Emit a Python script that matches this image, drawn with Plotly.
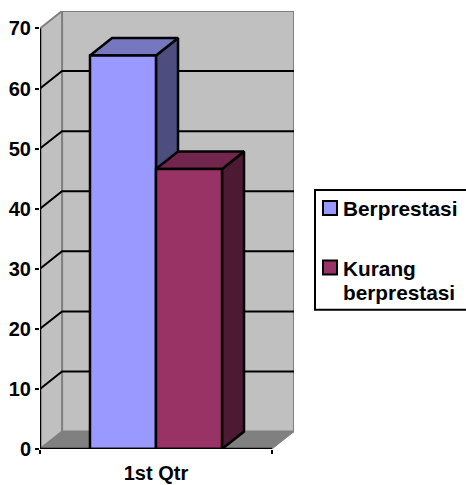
import plotly.graph_objects as go

CATEGORIES = ["1st Qtr"]
SERIES = ["Berprestasi", "Kurang<br>berprestasi"]
VALUES = [65.5, 46.6]
FRONT_COLORS = ["#9999FF", "#993366"]
TOP_COLORS = ["#7777C0", "#73264D"]
SIDE_COLORS = ["#4D4D80", "#4D1A33"]
Y_TICKS = [0, 10, 20, 30, 40, 50, 60, 70]
Y_MAX = 70
DEPTH_X = 0.095
DEPTH_Y = 2.9
BAR_GAP = 0.431
FONT = "Liberation Sans"
BOLD = dict(family=FONT, size=20, color="black", weight="bold")
W, H = 466, 485

fig = go.Figure()


def poly(xs, ys, fill, line, width=1.0):
    fig.add_trace(go.Scatter(x=xs, y=ys, mode="lines", fill="toself", fillcolor=fill,
                             line=dict(color=line, width=width), showlegend=False, hoverinfo="skip"))


L, R = -0.5, 0.5
# back wall, side wall, floor
poly([L + DEPTH_X, R + DEPTH_X, R + DEPTH_X, L + DEPTH_X, L + DEPTH_X],
     [DEPTH_Y, DEPTH_Y, Y_MAX + DEPTH_Y, Y_MAX + DEPTH_Y, DEPTH_Y], "#C0C0C0", "#808080", 2)
poly([L, L + DEPTH_X, L + DEPTH_X, L, L], [0, DEPTH_Y, Y_MAX + DEPTH_Y, Y_MAX, 0], "#C0C0C0", "#808080", 2)
poly([L, R, R + DEPTH_X, L + DEPTH_X, L], [0, 0, DEPTH_Y, DEPTH_Y, 0], "#808080", "#808080", 1)

# gridlines
for t in Y_TICKS[1:-1]:
    fig.add_trace(go.Scatter(x=[L, L + DEPTH_X, R + DEPTH_X], y=[t, t + DEPTH_Y, t + DEPTH_Y], mode="lines",
                             line=dict(color="black", width=2), showlegend=False, hoverinfo="skip"))

# depth faces of each bar
group_w = 1 - BAR_GAP
bar_w = group_w / len(VALUES)
for i, v in enumerate(VALUES):
    x0 = -group_w / 2 + i * bar_w
    x1 = x0 + bar_w
    poly([x1, x1 + DEPTH_X, x1 + DEPTH_X, x1, x1], [0, DEPTH_Y, v + DEPTH_Y, v, 0], SIDE_COLORS[i], "black", 2.5)
    poly([x0, x1, x1 + DEPTH_X, x0 + DEPTH_X, x0], [v, v, v + DEPTH_Y, v + DEPTH_Y, v], TOP_COLORS[i], "black", 2.5)

# front faces on an overlaying subplot so that they sit on top of the depth faces
for i, v in enumerate(VALUES):
    fig.add_trace(go.Bar(x=[0], y=[v], name=SERIES[i], xaxis="x2", yaxis="y2", showlegend=False,
                         marker=dict(color=FRONT_COLORS[i], line=dict(color="black", width=2.5))))

# axis lines in front
fig.add_trace(go.Scatter(x=[L, L, R], y=[Y_MAX, 0, 0], mode="lines", xaxis="x2", yaxis="y2",
                         line=dict(color="black", width=2.5), showlegend=False, hoverinfo="skip"))

# legend box, swatches and labels
LEG_FONT = dict(family=FONT, size=20.8, color="black", weight="bold")
TOP_PX, BOT_PX = 10.5, 449.5
PLOT_H = BOT_PX - TOP_PX
shapes = [dict(type="rect", xref="paper", yref="paper", layer="above",
               x0=(315 - 40) / 254, x1=(480 - 40) / 254,
               y0=(BOT_PX - 310) / PLOT_H, y1=(BOT_PX - 190) / PLOT_H,
               fillcolor="white", line=dict(color="black", width=2))]
annotations = []
swatch_tops = [201, 260.5]
label_mids = [[208], [269, 292.5]]
for i, name in enumerate(SERIES):
    top = swatch_tops[i]
    shapes.append(dict(type="rect", xref="paper", yref="paper", layer="above",
                       x0=(323 - 40) / 254, x1=(337 - 40) / 254,
                       y0=(BOT_PX - top - 14) / PLOT_H, y1=(BOT_PX - top) / PLOT_H,
                       fillcolor=FRONT_COLORS[i], line=dict(color="black", width=2)))
    for mid, part in zip(label_mids[i], name.split("<br>")):
        annotations.append(dict(xref="paper", yref="paper", x=(342 - 40) / 254, y=(BOT_PX - mid) / PLOT_H,
                                xanchor="left", yanchor="middle", showarrow=False, text=part, font=LEG_FONT,
                                borderpad=0, align="left"))

x_range = [L, R + DEPTH_X]
y_range = [0, Y_MAX + DEPTH_Y]
fig.update_layout(
    width=W, height=H,
    margin=dict(l=40, r=172, t=TOP_PX, b=H - BOT_PX),
    paper_bgcolor="white", plot_bgcolor="white",
    barmode="group", bargap=BAR_GAP, bargroupgap=0,
    font=BOLD, showlegend=False, shapes=shapes, annotations=annotations,
    xaxis=dict(range=x_range, tickvals=[0], ticktext=CATEGORIES, ticks="", showgrid=False, zeroline=False,
               showline=False, tickfont=BOLD, automargin=False, ticklabelstandoff=10,
               minor=dict(tickvals=[L, R], ticks="outside", ticklen=4, tickwidth=2, tickcolor="black", showgrid=False)),
    yaxis=dict(range=y_range, tickvals=Y_TICKS, ticks="outside", ticklen=4, tickwidth=2, tickcolor="black",
               showgrid=False, zeroline=False, showline=False, tickfont=BOLD, automargin=False),
    xaxis2=dict(range=x_range, overlaying="x", visible=False),
    yaxis2=dict(range=y_range, overlaying="y", visible=False),
)
fig.write_html("out.html", config=dict(displayModeBar=False), post_script="document.body.style.margin='0';")
